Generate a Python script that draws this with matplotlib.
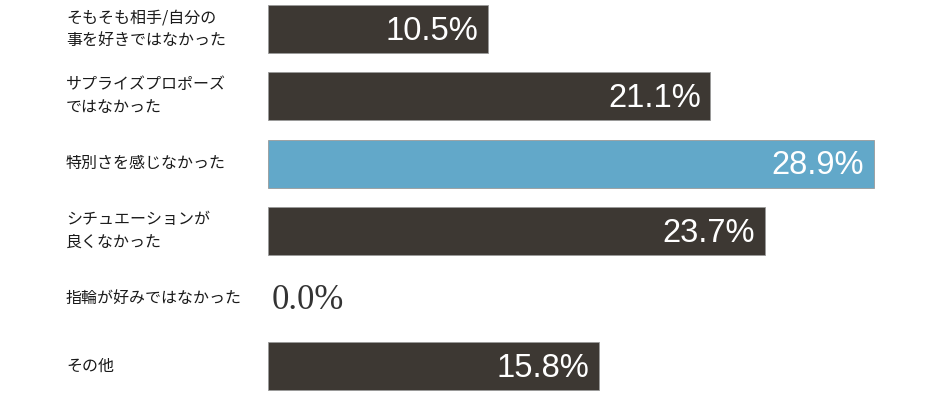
import matplotlib
matplotlib.use('Agg')
import matplotlib.pyplot as plt

plt.rcParams['font.family'] = ['Noto Sans CJK JP', 'DejaVu Sans']

labels = ['そもそも相手/自分の\n事を好きではなかった',
          'サプライズプロポーズ\nではなかった',
          '特別さを感じなかった',
          'シチュエーションが\n良くなかった',
          '指輪が好みではなかった',
          'その他']
values = [10.5, 21.1, 28.9, 23.7, 0.0, 15.8]
highlight = 2

dark = '#3d3833'
blue = '#62a8c9'
colors = [blue if i == highlight else dark for i in range(len(values))]

fig = plt.figure(figsize=(9.4, 3.97), dpi=100)
ax = fig.add_axes([268 / 940, 0, 1 - 268 / 940, 1])
ax.barh(range(len(values)), values, height=0.71, color=colors,
        edgecolor='#9a9a9a', linewidth=[0.6 if v > 0 else 0 for v in values])
ax.set_xlim(0, 32.06)
ax.set_ylim(5.46, -0.43)
ax.axis('off')

for i, v in enumerate(values):
    if v > 0:
        ax.text(v - 0.45, i + 0.03, f'{v:.1f}%', ha='right', va='center',
                color='white', fontsize=23.5, family=['Liberation Sans', 'DejaVu Sans'])
    else:
        ax.text(0.15, i + 0.03, f'{v:.1f}%', ha='left', va='center',
                color='#333333', fontsize=25, family=['Liberation Serif', 'DejaVu Serif'])
    fig.text(66 / 940, 1 - (29 + i * 67.4) / 397, labels[i], ha='left', va='center',
             fontsize=11.5, color='#1a1a1a', linespacing=1.45)

fig.savefig('out.png', dpi=100)
